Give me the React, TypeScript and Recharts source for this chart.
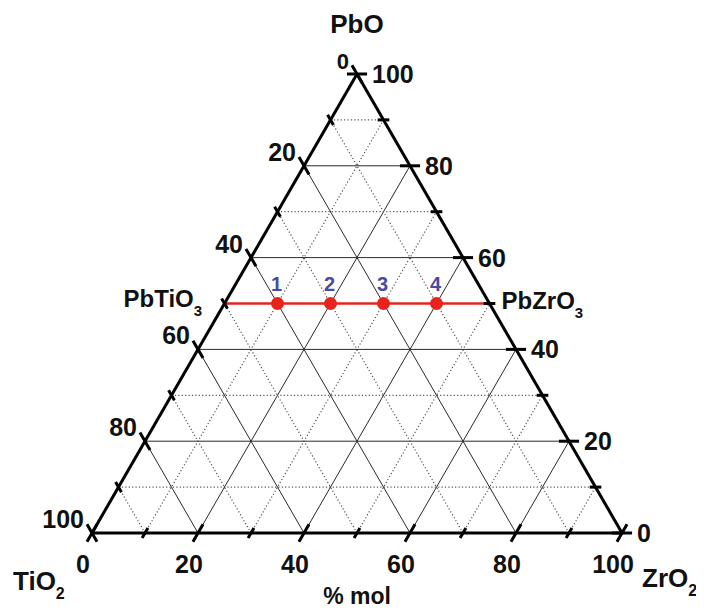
import React from 'react';
import { ScatterChart, XAxis, YAxis, ReferenceLine, ReferenceDot, Scatter } from 'recharts';

const SQ = Math.sqrt(3) / 2;

// axis tick values (% mol)
const MAJOR_TICKS = [0, 20, 40, 60, 80, 100];
const MINOR_TICKS = [10, 30, 50, 70, 90];
const GRID_LEVELS = [10, 20, 30, 40, 50, 60, 70, 80, 90];
const BOTTOM_LABELS = ['0', '20', '40', '60', '80', '100'];
const LEFT_LABELS = ['0', '20', '40', '60', '80', '100'];
const RIGHT_LABELS = ['100', '80', '60', '40', '20', '0'];

// samples on the PbTiO3 - PbZrO3 join
const SAMPLE_IDS = ['1', '2', '3', '4'];
const SAMPLE_PBO = [50, 50, 50, 50];
const SAMPLE_ZRO2 = [10, 20, 30, 40];

// end members
const END_PBO = [50, 50];
const END_ZRO2 = [0, 50];

const FONT = '"Liberation Sans", Arial, sans-serif';

const pt = (pbo: number, zro2: number) => ({ x: zro2 + pbo / 2, y: pbo * SQ });

const seg = (key: string, a: { x: number; y: number }, b: { x: number; y: number }, stroke: string, width: number, dash?: string) => (
  <ReferenceLine
    key={key}
    segment={[a, b]}
    stroke={stroke}
    strokeWidth={width}
    strokeDasharray={dash}
    ifOverflow="visible"
    strokeLinecap="butt"
  />
);

const textDot = (key: string, p: { x: number; y: number }, dx: number, dy: number, anchor: string, size: number, content: React.ReactNode, color = '#111') => (
  <ReferenceDot
    key={key}
    x={p.x}
    y={p.y}
    r={0}
    ifOverflow="visible"
    shape={(props: any) => (
      <text
        x={props.cx + dx}
        y={props.cy + dy}
        textAnchor={anchor as any}
        fontFamily={FONT}
        fontWeight="bold"
        fontSize={size}
        fill={color}
      >
        {content}
      </text>
    )}
  />
);

const sampleData = SAMPLE_IDS.map((id, i) => ({ ...pt(SAMPLE_PBO[i], SAMPLE_ZRO2[i]), id }));

export default function App() {
  const grid: React.ReactNode[] = [];
  GRID_LEVELS.forEach((k) => {
    const solid = k % 20 === 0;
    const stroke = solid ? '#2a2a2a' : '#555';
    const w = solid ? 1 : 1.2;
    const dash = solid ? undefined : '1.2 2.2';
    // constant PbO (horizontal)
    grid.push(seg(`p${k}`, pt(k, 0), pt(k, 100 - k), stroke, w, dash));
    // constant ZrO2
    grid.push(seg(`z${k}`, pt(0, k), pt(100 - k, k), stroke, w, dash));
    // constant TiO2
    grid.push(seg(`t${k}`, pt(0, 100 - k), pt(100 - k, 0), stroke, w, dash));
  });

  const ticks: React.ReactNode[] = [];
  const addTicks = (vals: number[], half: number, tag: string) => {
    vals.forEach((v) => {
      // bottom axis: ZrO2 = v, direction "/"
      const b = pt(0, v);
      ticks.push(seg(`bt${tag}${v}`, { x: b.x - 0.5 * half, y: b.y - SQ * half }, { x: b.x + 0.5 * half, y: b.y + SQ * half }, '#000', 3));
      // left axis: TiO2 = v, direction "\"
      const l = pt(100 - v, 0);
      ticks.push(seg(`lt${tag}${v}`, { x: l.x + 0.5 * half, y: l.y - SQ * half }, { x: l.x - 0.5 * half, y: l.y + SQ * half }, '#000', 3));
      // right axis: PbO = v, horizontal
      const r = pt(v, 100 - v);
      ticks.push(seg(`rt${tag}${v}`, { x: r.x - half, y: r.y }, { x: r.x + half, y: r.y }, '#000', 3));
    });
  };
  addTicks(MAJOR_TICKS, 1.9, 'M');
  addTicks(MINOR_TICKS, 1.1, 'm');

  const labels: React.ReactNode[] = [];
  MAJOR_TICKS.forEach((v, i) => {
    labels.push(textDot(`bl${v}`, pt(0, v), -9, 40, 'middle', 25, BOTTOM_LABELS[i]));
    labels.push(textDot(`ll${v}`, pt(100 - v, 0), -8, -5, 'end', v === 0 ? 22 : 25, LEFT_LABELS[i]));
    const pv = 100 - v;
    labels.push(textDot(`rl${v}`, pt(pv, 100 - pv), 15, 9, 'start', 25, RIGHT_LABELS[i]));
  });

  const apex = pt(100, 0);
  const bl = pt(0, 0);
  const br = pt(0, 100);
  const midBase = pt(0, 50);
  const pbti = pt(END_PBO[0], END_ZRO2[0]);
  const pbzr = pt(END_PBO[1], END_ZRO2[1]);

  return (
    <ScatterChart width={696} height={603} margin={{ top: 66, right: 82, bottom: 78, left: 84 }}>
      <XAxis type="number" dataKey="x" domain={[0, 100]} hide allowDataOverflow />
      <YAxis type="number" dataKey="y" domain={[0, 100 * SQ]} hide allowDataOverflow />
      {grid}
      {seg('red', pbti, pbzr, '#e3261c', 2.6)}
      {seg('e1', bl, br, '#000', 3)}
      {seg('e2', br, apex, '#000', 3)}
      {seg('e3', apex, bl, '#000', 3)}
      {ticks}
      <Scatter
        data={sampleData}
        isAnimationActive={false}
        shape={(props: any) => (
          <g>
            <circle cx={props.cx} cy={props.cy} r={6.5} fill="#e8231c" />
            <text
              x={props.cx - 1}
              y={props.cy - 13}
              textAnchor="middle"
              fontFamily={FONT}
              fontWeight="bold"
              fontSize={20}
              fill="#4a4aa0"
            >
              {props.payload ? props.payload.id : props.id}
            </text>
          </g>
        )}
      />
      {labels}
      {textDot('tPbO', apex, 0, -41, 'middle', 26, 'PbO')}
      {textDot('tTiO2', bl, -79, 57, 'start', 26, [<tspan key="a">TiO</tspan>, <tspan key="b" dy={9} fontSize={16}>2</tspan>])}
      {textDot('tZrO2', br, 20, 54, 'start', 26, [<tspan key="a">ZrO</tspan>, <tspan key="b" dy={9} fontSize={16}>2</tspan>])}
      {textDot('tmol', midBase, 0, 71, 'middle', 23, '% mol')}
      {textDot('tPbTi', pbti, -101, 3, 'start', 24, [<tspan key="a">PbTiO</tspan>, <tspan key="b" dy={9} fontSize={15}>3</tspan>])}
      {textDot('tPbZr', pbzr, 12, 5, 'start', 24, [<tspan key="a">PbZrO</tspan>, <tspan key="b" dy={9} fontSize={15}>3</tspan>])}
    </ScatterChart>
  );
}
